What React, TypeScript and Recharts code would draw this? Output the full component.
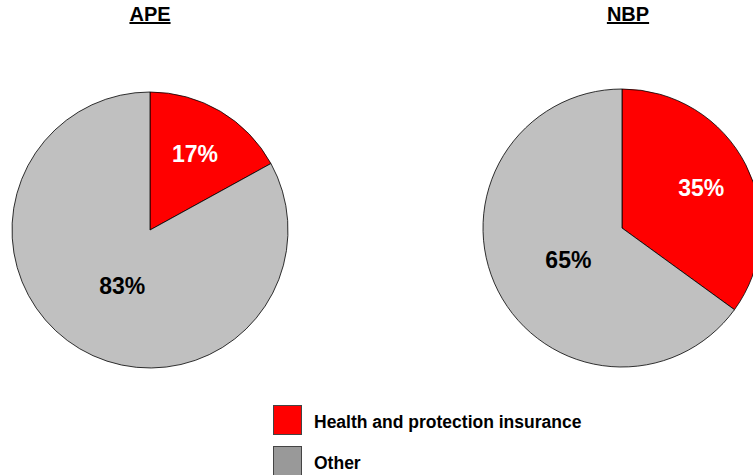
import { PieChart, Pie, Cell } from "recharts"

const categories = ["Health and protection insurance", "Other"]
const apeValues = [17, 83]
const nbpValues = [35, 65]
const titles = ["APE", "NBP"]

const sliceColors = ["#ff0000", "#c0c0c0"]
const legendColors = ["#ff0000", "#999999"]
const labelColors = ["#ffffff", "#000000"]
const FONT = '"Liberation Sans", Arial, sans-serif'

const apeData = categories.map((name, i) => ({ name, value: apeValues[i] }))
const nbpData = categories.map((name, i) => ({ name, value: nbpValues[i] }))

const RADIAN = Math.PI / 180

// small slices get their label further out, like the original
const renderLabel = (props: any) => {
  const { cx, cy, midAngle, outerRadius, value, index } = props
  const big = value >= 50
  const r = outerRadius * (big ? 0.45 : 0.64)
  const a = (big ? midAngle + 4 : midAngle) * RADIAN
  const x = cx + r * Math.cos(-a)
  const y = cy + r * Math.sin(-a)
  return (
    <text
      x={x}
      y={y}
      fill={labelColors[index]}
      textAnchor="middle"
      dominantBaseline="central"
      fontFamily={FONT}
      fontWeight="bold"
      fontSize={23}
    >
      {`${value}%`}
    </text>
  )
}

export default function App() {
  return (
    <div style={{ position: "absolute", left: 0, top: 0, width: 753, height: 475, overflow: "hidden", fontFamily: FONT }}>
      <PieChart width={753} height={475} margin={{ top: 0, right: 0, bottom: 0, left: 0 }}>
        <Pie
          data={apeData}
          dataKey="value"
          cx={150}
          cy={230}
          outerRadius={138}
          startAngle={90}
          endAngle={-270}
          stroke="#000"
          strokeWidth={0.8}
          label={renderLabel}
          labelLine={false}
          isAnimationActive={false}
        >
          {apeData.map((d, i) => <Cell key={d.name} fill={sliceColors[i]} />)}
        </Pie>
        <Pie
          data={nbpData}
          dataKey="value"
          cx={622}
          cy={228}
          outerRadius={139}
          startAngle={90}
          endAngle={-270}
          stroke="#000"
          strokeWidth={0.8}
          label={renderLabel}
          labelLine={false}
          isAnimationActive={false}
        >
          {nbpData.map((d, i) => <Cell key={d.name} fill={sliceColors[i]} />)}
        </Pie>
      </PieChart>

      {titles.map((t, i) => (
        <div
          key={t}
          style={{
            position: "absolute",
            left: i === 0 ? 100 : 578,
            width: 100,
            top: 2,
            textAlign: "center",
            fontWeight: "bold",
            fontSize: 20,
            textDecoration: "underline",
            lineHeight: "24px",
          }}
        >
          {t}
        </div>
      ))}

      {categories.map((c, i) => (
        <div key={c} style={{ position: "absolute", left: 273, top: 405 + i * 41, display: "flex", alignItems: "center" }}>
          <div style={{ width: 27, height: 28, background: legendColors[i], border: "1px solid #444" }} />
          <span style={{ marginLeft: 12, fontWeight: "bold", fontSize: 17.5, position: "relative", top: 2 }}>{c}</span>
        </div>
      ))}
    </div>
  )
}
